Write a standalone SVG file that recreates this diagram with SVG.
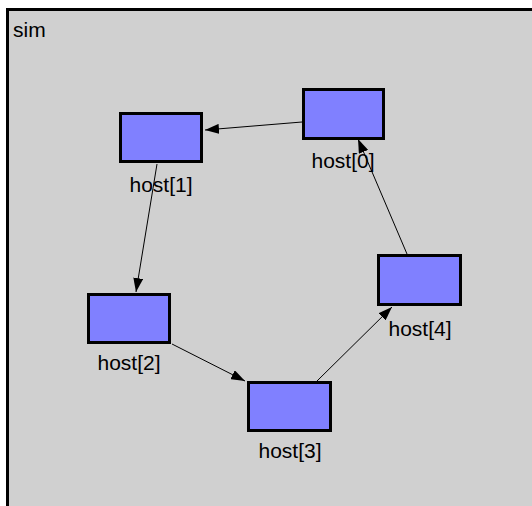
<svg xmlns="http://www.w3.org/2000/svg" width="532" height="506" viewBox="0 0 532 506">
<style>
.node rect{fill:#8080ff;stroke:#000;stroke-width:3}
.lbl{font-family:"Liberation Sans",Arial,sans-serif;font-size:21px;fill:#000;text-anchor:middle}
.conn line{stroke:#000;stroke-width:1;marker-end:url(#arr)}
</style>
<defs>
<marker id="arr" viewBox="0 0 14 10" refX="14" refY="5" markerWidth="14" markerHeight="10" markerUnits="userSpaceOnUse" orient="auto">
<path d="M0,0 L14,5 L0,10 z" fill="#000"/>
</marker>
</defs>
<rect x="0" y="0" width="532" height="506" fill="#fff"/>
<g id="sim">
<rect x="7.5" y="9.5" width="530" height="500" fill="#d0d0d0" stroke="#000" stroke-width="3"/>
<text x="13" y="37" font-family="Liberation Sans,Arial,sans-serif" font-size="21">sim</text>
</g>
<g id="connectors" class="conn">
<line x1="302" y1="122" x2="205" y2="130"/>
<line x1="157" y1="164" x2="136" y2="292"/>
<line x1="172" y1="344" x2="245" y2="381"/>
<line x1="317" y1="381" x2="392" y2="307"/>
<line x1="407" y1="254" x2="358" y2="139"/>
</g>
<g id="host0" class="node"><rect x="303.5" y="89.5" width="80" height="49"/><text class="lbl" x="343" y="168">host[0]</text></g>
<g id="host1" class="node"><rect x="120.5" y="113.5" width="81" height="48"/><text class="lbl" x="161" y="192">host[1]</text></g>
<g id="host2" class="node"><rect x="88.5" y="294.5" width="81" height="48"/><text class="lbl" x="129" y="370">host[2]</text></g>
<g id="host3" class="node"><rect x="248.5" y="382.5" width="82" height="48"/><text class="lbl" x="290" y="458">host[3]</text></g>
<g id="host4" class="node"><rect x="378.5" y="255.5" width="82" height="49"/><text class="lbl" x="420" y="336">host[4]</text></g>
</svg>
